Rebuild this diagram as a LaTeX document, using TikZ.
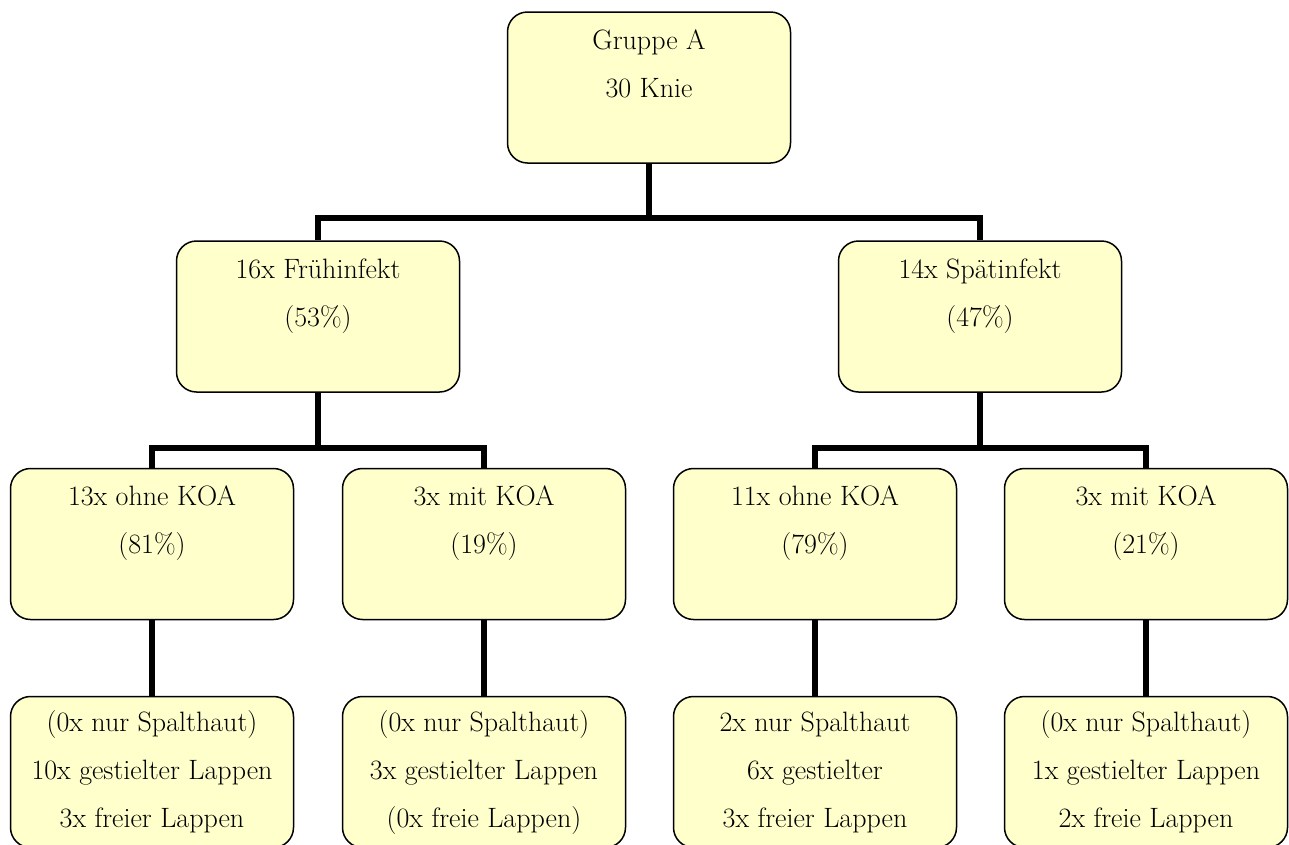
\documentclass[tikz,border=0pt]{standalone}
\usepackage{fontspec}
\usepackage{xcolor}
\usepackage{tikz}
\usetikzlibrary{positioning,backgrounds}
\definecolor{boxYellow}{RGB}{255,255,204}
\definecolor{boxLine}{RGB}{0,0,0}

\tikzset{
  knot/.style={draw=boxLine, fill=boxYellow, line width=1.5pt, rounded corners=20pt,
    minimum width=283pt, minimum height=151pt, inner sep=0pt, align=center,
    font=\fontsize{28}{48}\selectfont},
  conn/.style={draw=black, line width=5.5pt},
}

\begin{document}
\begin{tikzpicture}[x=1pt,y=-1pt]
\clip (0,0) rectangle (1289,844);

% Gruppe
\node[knot] (grpA) at (649,87.5) {Gruppe A\\30 Knie\\\mbox{}};

% Infekt
\node[knot] (frueh) at (318,316.5) {16x Frühinfekt\\(53\%)\\\mbox{}};
\node[knot] (spaet) at (980,316.5) {14x Spätinfekt\\(47\%)\\\mbox{}};

% KOA
\node[knot] (fOhne) at (152,544) {13x ohne KOA\\(81\%)\\\mbox{}};
\node[knot] (fMit)  at (484,544) {3x mit KOA\\(19\%)\\\mbox{}};
\node[knot] (sOhne) at (815,544) {11x ohne KOA\\(79\%)\\\mbox{}};
\node[knot] (sMit)  at (1146,544) {3x mit KOA\\(21\%)\\\mbox{}};

% Lappen
\node[knot] (fOhneL) at (152,772) {(0x nur Spalthaut)\\10x gestielter Lappen\\3x freier Lappen};
\node[knot] (fMitL)  at (484,772) {(0x nur Spalthaut)\\3x gestielter Lappen\\(0x freie Lappen)};
\node[knot] (sOhneL) at (815,772) {2x nur Spalthaut\\6x gestielter\\3x freier Lappen};
\node[knot] (sMitL)  at (1146,772) {(0x nur Spalthaut)\\1x gestielter Lappen\\2x freie Lappen};

\begin{scope}[on background layer]
\draw[conn] (grpA.south) -- ++(0,54) coordinate (j0);
\draw[conn] (frueh.north) |- (j0) -| (spaet.north);
\draw[conn] (frueh.south) -- ++(0,55) coordinate (j1);
\draw[conn] (fOhne.north) |- (j1) -| (fMit.north);
\draw[conn] (spaet.south) -- ++(0,55) coordinate (j2);
\draw[conn] (sOhne.north) |- (j2) -| (sMit.north);
\draw[conn] (fOhne.south) -- (fOhneL.north);
\draw[conn] (fMit.south) -- (fMitL.north);
\draw[conn] (sOhne.south) -- (sOhneL.north);
\draw[conn] (sMit.south) -- (sMitL.north);
\end{scope}
\end{tikzpicture}
\end{document}
